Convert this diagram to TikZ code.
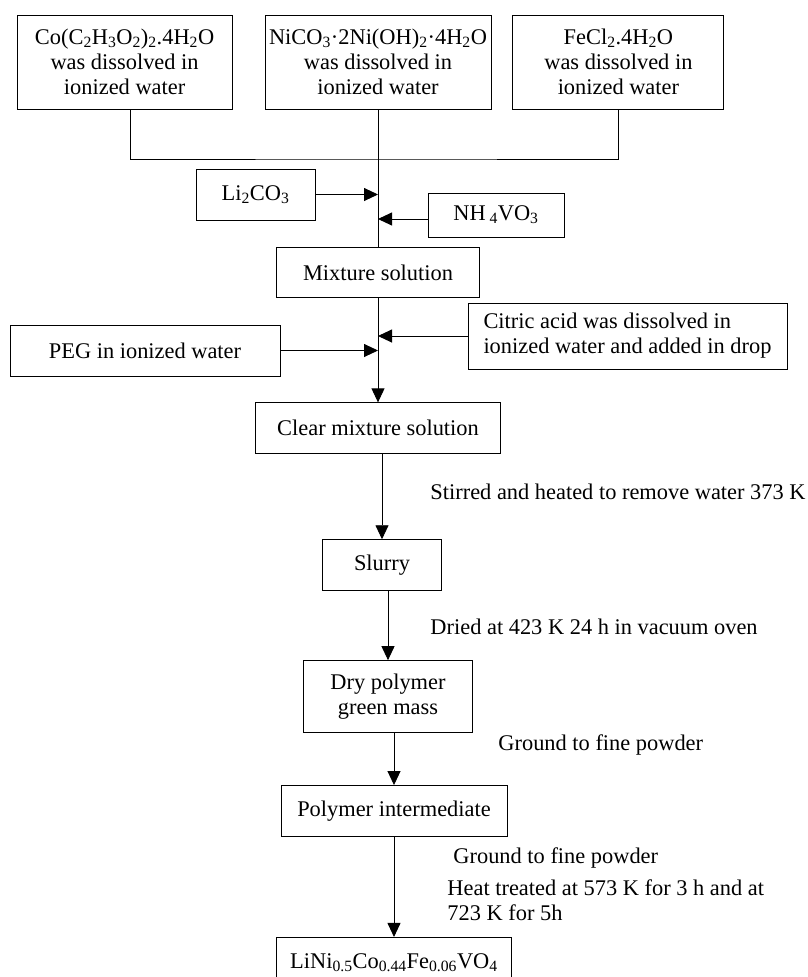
\documentclass[tikz,border=0pt]{standalone}
\usepackage{fontspec}
\setmainfont{Liberation Serif}
\usetikzlibrary{positioning,arrows.meta}

\tikzset{
  proc/.style={draw, line width=0.9pt, inner sep=0pt, align=center},
  note/.style={inner sep=0pt, anchor=west, align=left},
}

\begin{document}
\begin{tikzpicture}[x=1pt, y=-1pt, line width=0.9pt,
    font=\fontsize{22.4}{25}\selectfont,
    >={Triangle[length=14pt,width=13pt]}]
      \useasboundingbox (0,0) rectangle (807,977);
      \clip (0,0) rectangle (807,977);

      % starting solutions
      \node[proc, minimum width=226pt, minimum height=94pt] (ni) at (378,62) {NiCO\textsubscript{3}·2Ni(OH)\textsubscript{2}·4H\textsubscript{2}O\\was dissolved in\\ionized water};
      \node[proc, minimum width=215pt, minimum height=94pt, left=32pt of ni] (co) {Co(C\textsubscript{2}H\textsubscript{3}O\textsubscript{2})\textsubscript{2}.4H\textsubscript{2}O\\was dissolved in\\ionized water};
      \node[proc, minimum width=211pt, minimum height=94pt, right=21pt of ni] (fe) {FeCl\textsubscript{2}.4H\textsubscript{2}O\\was dissolved in\\ionized water};
      \coordinate (bus) at (378,159);

      % additions
      \node[proc, minimum width=119pt, minimum height=51pt] (li) at (255.5,194.5) {Li\textsubscript{2}CO\textsubscript{3}};
      \node[proc, minimum width=136pt, minimum height=44pt] (nh) at (496,215) {NH\,\textsubscript{4}VO\textsubscript{3}};
      \node[proc, minimum width=203pt, minimum height=50pt, below=138pt of ni] (mix) {Mixture solution};
      \node[proc, minimum width=319pt, minimum height=66pt, align=left] (cit) at (627.5,336) {Citric acid was dissolved in\\ionized water and added in drop};
      \node[proc, minimum width=270pt, minimum height=51pt] (peg) at (145,350.5) {PEG in ionized water};

      % main chain
      \node[proc, minimum width=245pt, minimum height=51pt, below=104pt of mix] (clear) {Clear mixture solution};
      \node[proc, minimum width=119pt, minimum height=51pt, below=85pt of clear, xshift=4pt] (slurry) {Slurry};
      \node[proc, minimum width=169pt, minimum height=72pt, below=69pt of slurry, xshift=6pt] (dry) {Dry polymer\\green mass};
      \node[proc, minimum width=226pt, minimum height=51pt, below=52pt of dry, xshift=6pt] (poly) {Polymer intermediate};
      \node[proc, minimum width=235pt, minimum height=50pt, below=100pt of poly] (final) {LiNi\textsubscript{0.5}Co\textsubscript{0.44}Fe\textsubscript{0.06}VO\textsubscript{4}};

      % process conditions
      \node[note] (stir) at (430,492) {Stirred and heated to remove water 373 K};
      \node[note] (dried) at (430,627) {Dried at 423 K 24 h in vacuum oven};
      \node[note] (grd1) at (498,745) {Ground to fine powder};
      \node[note] (grd2) at (453,858) {Ground to fine powder};
      \node[note] (heat) at (447,900.5) {Heat treated at 573 K for 3 h and at\\723 K for 5h};

      \draw ([xshift=6pt]co.south) |- (bus) -| (fe.south);
      \draw (ni.south) -- (mix.north);
      \draw[->] (li.east) -- (li.east -| mix.north);
      \draw[->] ([yshift=-4pt]nh.west) -- ([yshift=-4pt]nh.west -| mix.north);
      \draw[->] (mix.south) -- (clear.north);
      \draw[->] (peg.east) -- (peg.east -| clear.north);
      \draw[->] (cit.west) -- (cit.west -| clear.north);
      \draw[->] (slurry.north |- clear.south) -- (slurry.north);
      \draw[->] (dry.north |- slurry.south) -- (dry.north);
      \draw[->] (poly.north |- dry.south) -- (poly.north);
      \draw[->] (poly.south) -- (final.north);

\end{tikzpicture}
\end{document}
